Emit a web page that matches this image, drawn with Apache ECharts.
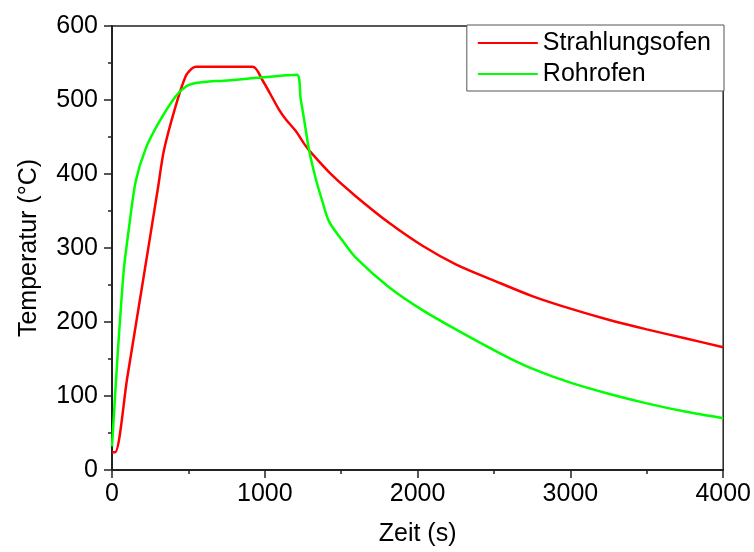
<!DOCTYPE html>
<html><head><meta charset="utf-8">
<script src="https://cdn.jsdelivr.net/npm/echarts@6/dist/echarts.min.js"></script>
<style>html,body{margin:0;padding:0;background:#fff}#c{width:754px;height:552px}</style>
</head><body><div id="c"></div>
<script>
const redTime = [0,20,100,200,300,340,417,482,520,548,920,984,1093,1137,1203,1257,1290,1442,1595,1813,2032,2250,2500,2750,3000,3250,3500,3750,4000];
const redTemp = [24,24,125,252,380,432,492,532,542,545,545,527,487,474,458,441,432,398,370,334,303,278,256,235,218,203,190,178,166];
const greenTime = [0,35,57,79,111,155,220,308,417,482,548,635,733,951,1209,1235,1257,1290,1333,1377,1420,1508,1595,1813,2032,2250,2555,2750,3000,3250,3500,3750,4000];
const greenTemp = [32,150,216,274,327,390,434,470,505,518,523,525,526,530,534,501,474,432,394,363,336,310,287,247,216,190,156,137,118,103,90,79,70];
const seriesNames = ['Strahlungsofen','Rohrofen'];
const xTitle = 'Zeit (s)';
const yTitle = 'Temperatur (°C)';

const font = 'Arial, "Liberation Sans", sans-serif';
const zip = (a,b)=>a.map((v,i)=>[v,b[i]]);
const chart = echarts.init(document.getElementById('c'));
chart.setOption({
  animation:false,
  backgroundColor:'#fff',
  grid:{left:112,right:30,top:26,bottom:76,show:true,borderColor:'#222',borderWidth:1.5,backgroundColor:'transparent'},
  legend:{
    orient:'vertical', right:30, top:25,
    padding:[5,13,4,11], itemGap:5, itemWidth:60, itemHeight:2, itemTextGap:9,
    borderColor:'#555', borderWidth:1, backgroundColor:'#fff',
    icon:'rect',
    textStyle:{fontFamily:font,fontSize:25,color:'#000',lineHeight:26},
    data:seriesNames
  },
  xAxis:{
    type:'value', min:0, max:4000, interval:1000,
    name:xTitle, nameLocation:'middle', nameGap:52,
    nameTextStyle:{fontFamily:font,fontSize:25,color:'#000'},
    axisLine:{show:true,onZero:false,lineStyle:{color:'#222',width:2}},
    axisTick:{show:true,inside:false,length:8,lineStyle:{color:'#222',width:1.5}},
    minorTick:{show:true,splitNumber:2,length:4,lineStyle:{color:'#222',width:1.5}},
    axisLabel:{fontFamily:font,fontSize:25,color:'#000',margin:12,formatter:v=>String(v)},
    splitLine:{show:false}
  },
  yAxis:{
    type:'value', min:0, max:600, interval:100,
    name:yTitle, nameLocation:'middle', nameGap:70,
    nameTextStyle:{fontFamily:font,fontSize:25,color:'#000'},
    axisLine:{show:true,onZero:false,lineStyle:{color:'#222',width:2}},
    axisTick:{show:true,inside:false,length:8,lineStyle:{color:'#222',width:1.5}},
    minorTick:{show:true,splitNumber:2,length:4,lineStyle:{color:'#222',width:1.5}},
    axisLabel:{fontFamily:font,fontSize:25,color:'#000',margin:14,formatter:v=>String(v)},
    splitLine:{show:false}
  },
  series:[
    {name:seriesNames[0],type:'line',data:zip(redTime,redTemp),showSymbol:false,symbol:'none',
     smooth:0.3,
     lineStyle:{color:'#ff0000',width:2.5},itemStyle:{color:'#ff0000'}},
    {name:seriesNames[1],type:'line',data:zip(greenTime,greenTemp),showSymbol:false,symbol:'none',
     smooth:0.3,
     lineStyle:{color:'#00ff00',width:2.5},itemStyle:{color:'#00ff00'}}
  ]
});
</script></body></html>
